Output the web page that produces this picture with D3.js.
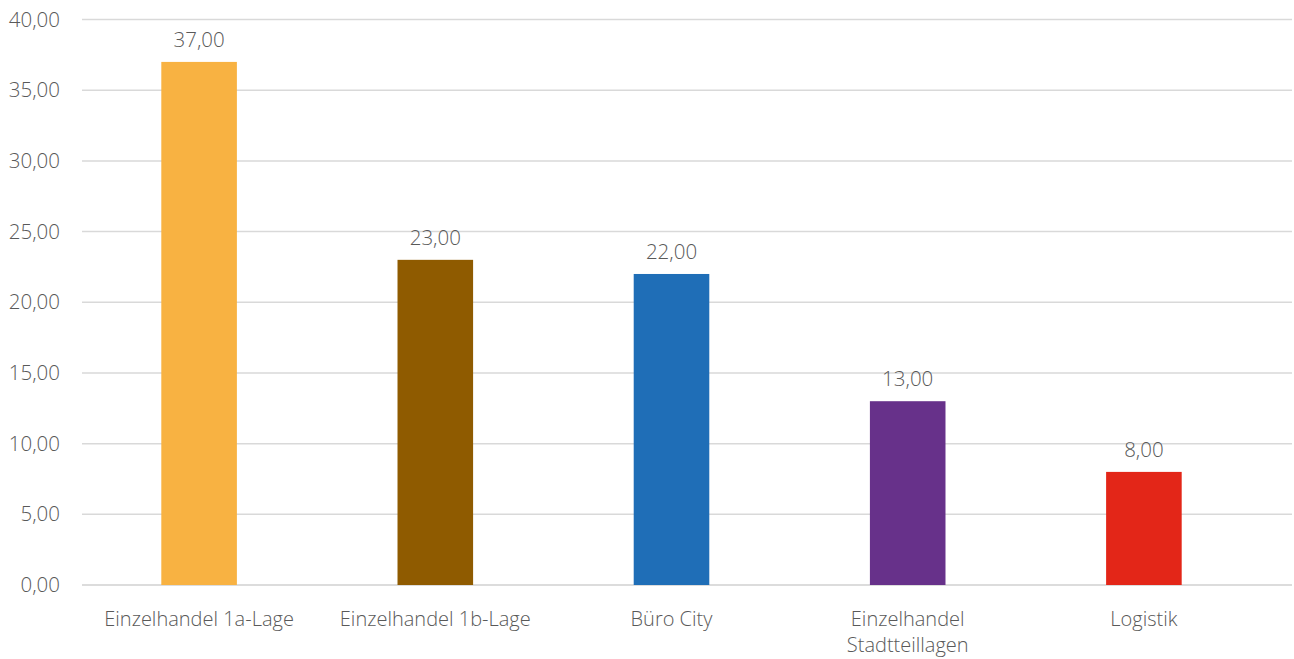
<!DOCTYPE html>
<html>
<head>
<meta charset="utf-8">
<script src="https://cdn.jsdelivr.net/npm/d3@7"></script>
<style>
  body { margin: 0; background: #fff; }
  text { font-family: "Open Sans", sans-serif; font-weight: 300; fill: #595959; }
</style>
</head>
<body>
<div id="chart"></div>
<script>
var categories = ["Einzelhandel 1a-Lage", "Einzelhandel 1b-Lage", "Büro City", "Einzelhandel\nStadtteillagen", "Logistik"];
var values = [37, 23, 22, 13, 8];
var colors = ["#F8B242", "#8F5B00", "#1F6EB7", "#67318A", "#E32618"];
var yTicks = [0, 5, 10, 15, 20, 25, 30, 35, 40];

var width = 1294, height = 659;
var fmt = function(v) { return d3.format(".2f")(v).replace(".", ","); };

var svg = d3.select("#chart").append("svg")
    .attr("width", width)
    .attr("height", height);

var x = d3.scaleBand()
    .domain(categories)
    .range([81, 1262])
    .paddingInner(0.68)
    .paddingOuter(0.34);

var y = d3.scaleLinear()
    .domain([0, 40])
    .range([585, 19.5]);

// gridlines
svg.append("g")
    .selectAll("line")
    .data(yTicks)
    .enter().append("line")
    .attr("x1", 82)
    .attr("x2", 1292)
    .attr("y1", function(d) { return y(d); })
    .attr("y2", function(d) { return y(d); })
    .attr("stroke", function(d) { return d == 0 ? "#d0d0d0" : "#d9d9d9"; })
    .attr("stroke-width", 1.5);

// y labels
svg.append("g")
    .selectAll("text")
    .data(yTicks)
    .enter().append("text")
    .attr("x", 60)
    .attr("y", function(d) { return y(d); })
    .attr("dy", "0.35em")
    .attr("text-anchor", "end")
    .style("font-size", "20.5px")
    .text(fmt);

// bars
svg.append("g")
    .selectAll("rect")
    .data(values)
    .enter().append("rect")
    .attr("x", function(d, i) { return x(categories[i]); })
    .attr("width", x.bandwidth())
    .attr("y", function(d) { return y(d); })
    .attr("height", function(d) { return y(0) - y(d); })
    .attr("fill", function(d, i) { return colors[i]; });

// value labels
svg.append("g")
    .selectAll("text")
    .data(values)
    .enter().append("text")
    .attr("x", function(d, i) { return x(categories[i]) + x.bandwidth() / 2; })
    .attr("y", function(d) { return y(d) - 15; })
    .attr("text-anchor", "middle")
    .style("font-size", "20.5px")
    .text(fmt);

// category labels
var cat = svg.append("g")
    .selectAll("text")
    .data(categories)
    .enter().append("text")
    .attr("x", function(d) { return x(d) + x.bandwidth() / 2; })
    .attr("y", 626)
    .attr("text-anchor", "middle")
    .style("font-size", "20px");

cat.selectAll("tspan")
    .data(function(d) { return d.split("\n"); })
    .enter().append("tspan")
    .attr("x", function() { return d3.select(this.parentNode).attr("x"); })
    .attr("dy", function(d, i) { return i == 0 ? 0 : 26; })
    .text(function(d) { return d; });
</script>
</body>
</html>
